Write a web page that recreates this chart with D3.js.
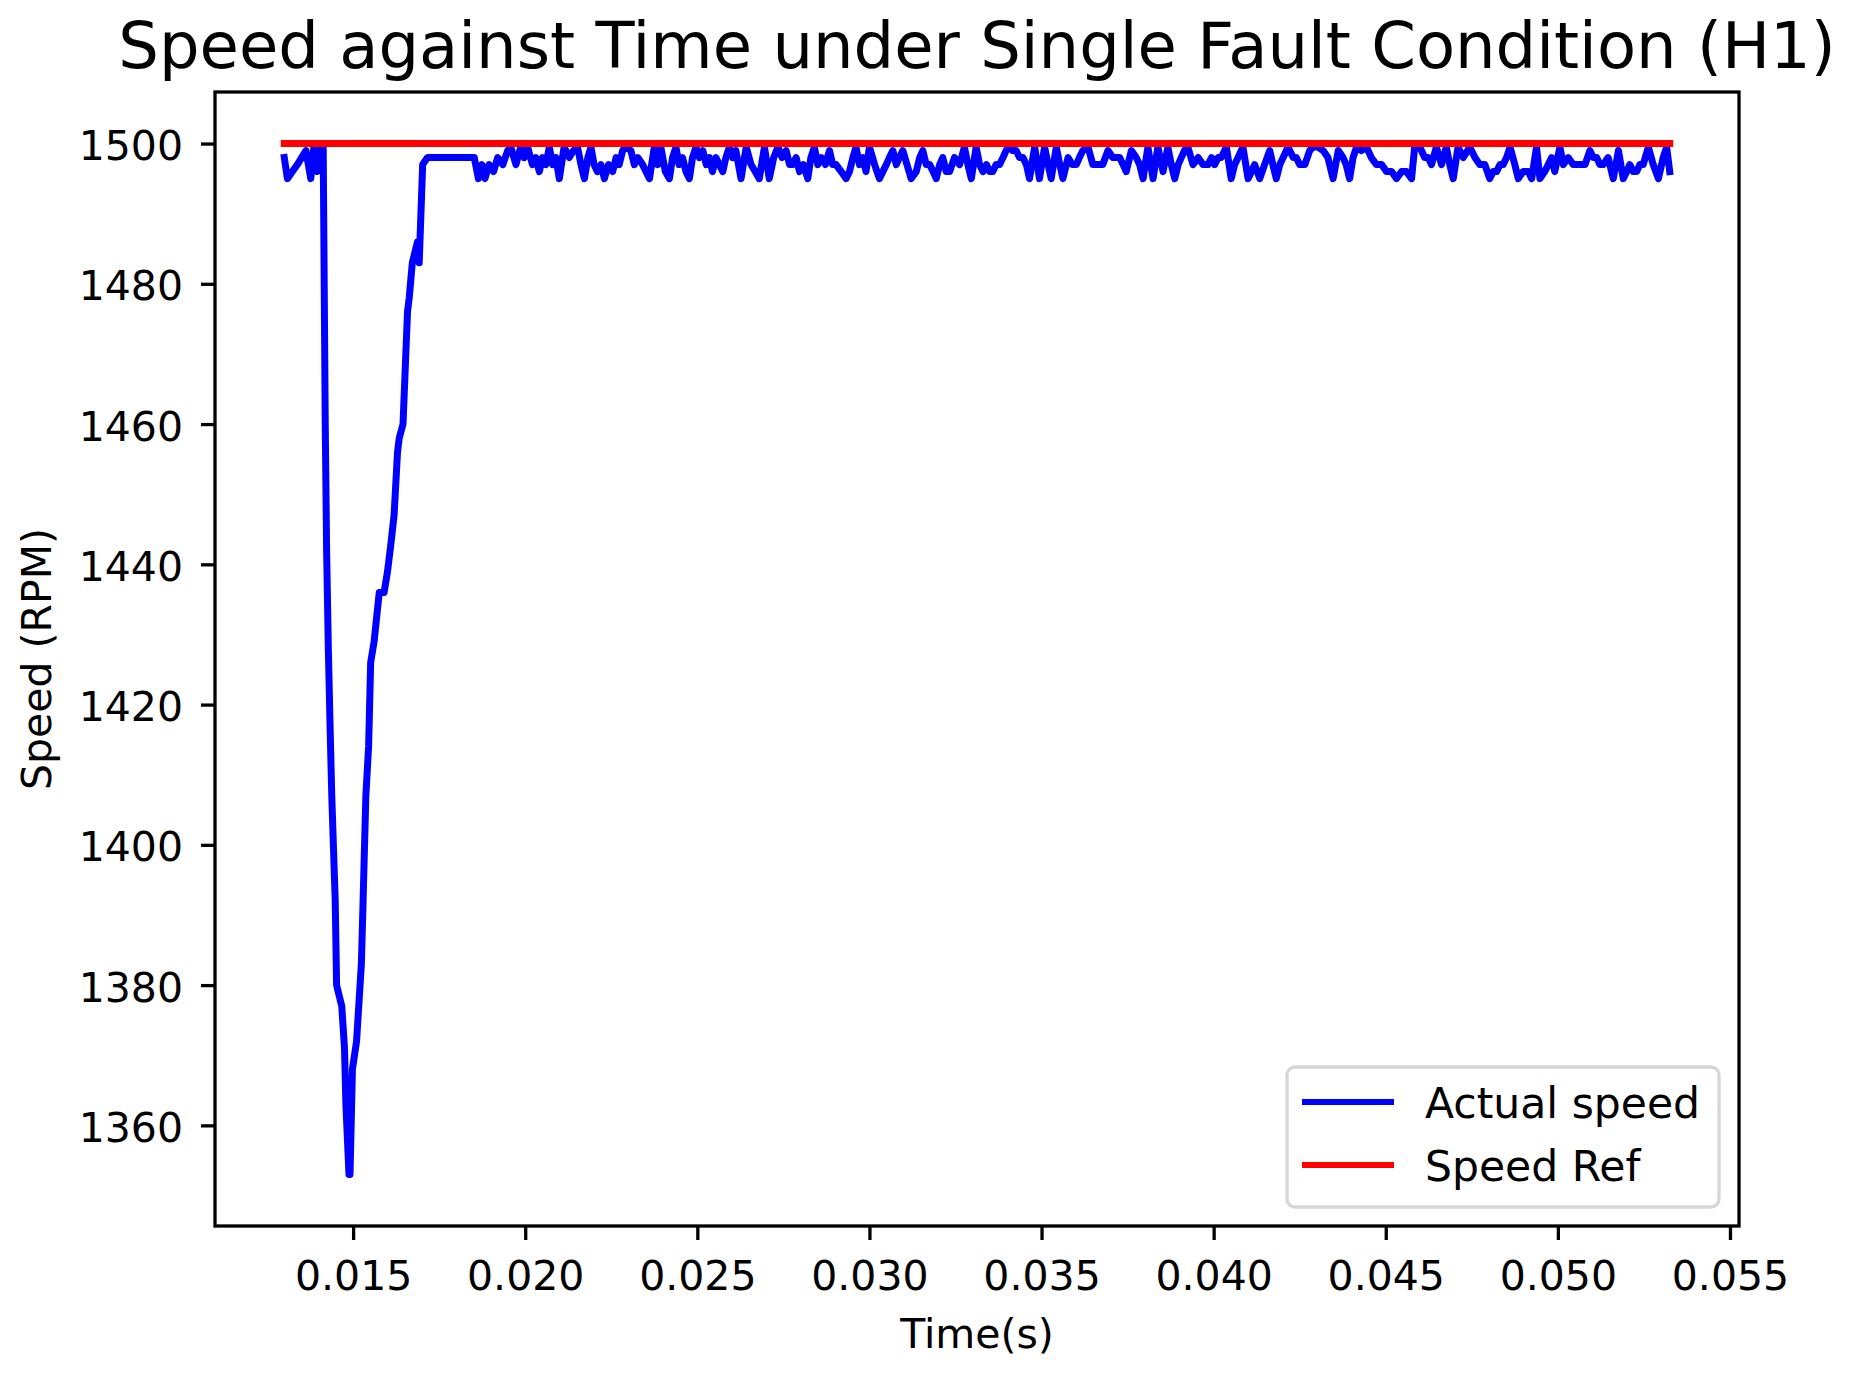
<!DOCTYPE html>
<html>
<head>
<meta charset="utf-8">
<script src="https://cdn.jsdelivr.net/npm/d3@7"></script>
<style>
  html, body { margin: 0; padding: 0; background: #ffffff; }
  svg { display: block; font-family: "DejaVu Sans", sans-serif; }
</style>
</head>
<body>
<svg id="chart" width="1849" height="1379"></svg>
<script>
// ---------------- data ----------------
const titleText = "Speed against Time under Single Fault Condition (H1)";
const xLabelText = "Time(s)";
const yLabelText = "Speed (RPM)";
const seriesNames = ["Actual speed", "Speed Ref"];
const seriesColors = ["#0000ff", "#ff0000"];

// Actual speed: time (s)
const actualTime = [
  // start + fault transient
  0.01300, 0.01309, 0.01338, 0.01363, 0.01377, 0.01387, 0.01396, 0.01406, 0.01413,
  0.01419, 0.01423, 0.01428, 0.01433, 0.01438, 0.01448, 0.01452, 0.01467, 0.01475,
  0.01479, 0.01488, 0.01491, 0.01498, 0.01510, 0.01524, 0.01529, 0.01537, 0.01545,
  0.01551, 0.01561, 0.01576, 0.01590, 0.01600, 0.01610, 0.01619, 0.01629, 0.01634,
  0.01645, 0.01658, 0.01663, 0.01672, 0.01682, 0.01687, 0.01692, 0.01702, 0.01716,
  0.01852,
  // steady state ripple
  0.01864, 0.01874, 0.01883, 0.01895, 0.01908, 0.01920, 0.01935, 0.01949, 0.01958,
  0.01973, 0.01987, 0.01997, 0.02007, 0.02021, 0.02031, 0.02041, 0.02050, 0.02060,
  0.02070, 0.02080, 0.02089, 0.02099, 0.02113, 0.02128, 0.02140, 0.02152, 0.02162,
  0.02172, 0.02182, 0.02191, 0.02200, 0.02210, 0.02220, 0.02230, 0.02242, 0.02254,
  0.02264, 0.02273, 0.02283, 0.02293, 0.02307, 0.02317, 0.02327, 0.02341, 0.02351,
  0.02361, 0.02375, 0.02385, 0.02394, 0.02407, 0.02419, 0.02428, 0.02438, 0.02447,
  0.02457, 0.02467, 0.02477, 0.02486, 0.02496, 0.02506, 0.02516, 0.02526, 0.02535,
  0.02544, 0.02554, 0.02564, 0.02574, 0.02583, 0.02593, 0.02603, 0.02612, 0.02627,
  0.02642, 0.02656, 0.02668, 0.02680, 0.02695, 0.02709, 0.02722, 0.02734, 0.02746,
  0.02758, 0.02768, 0.02777, 0.02787, 0.02797, 0.02808, 0.02821, 0.02830, 0.02840,
  0.02850, 0.02860, 0.02872, 0.02884, 0.02893, 0.02903, 0.02918, 0.02932,
  0.02942, 0.02952, 0.02961, 0.02971, 0.02981, 0.02990, 0.03000, 0.03015, 0.03029,
  0.03039, 0.03049, 0.03058, 0.03068, 0.03078, 0.03087, 0.03097, 0.03109, 0.03121,
  0.03136, 0.03146, 0.03155, 0.03165, 0.03175, 0.03185, 0.03194, 0.03204, 0.03213,
  0.03223, 0.03233, 0.03247, 0.03262, 0.03276, 0.03286, 0.03296, 0.03310, 0.03320,
  0.03330, 0.03340, 0.03349, 0.03358, 0.03368, 0.03378, 0.03388, 0.03397, 0.03407,
  0.03416, 0.03426, 0.03436, 0.03446, 0.03456, 0.03465, 0.03480, 0.03494, 0.03509,
  0.03519, 0.03528, 0.03543, 0.03553, 0.03562, 0.03577, 0.03589, 0.03601, 0.03610,
  0.03620, 0.03635, 0.03649, 0.03663, 0.03678, 0.03693, 0.03707, 0.03717, 0.03727,
  0.03737, 0.03746, 0.03761, 0.03775, 0.03785, 0.03795, 0.03809, 0.03824, 0.03838,
  0.03853, 0.03867, 0.03877, 0.03887, 0.03897, 0.03906, 0.03915, 0.03925, 0.03940,
  0.03955, 0.03969, 0.03984, 0.03994, 0.04003, 0.04013, 0.04022, 0.04037, 0.04051,
  0.04061, 0.04071, 0.04085, 0.04100,
  0.04110, 0.04119, 0.04134, 0.04148, 0.04163, 0.04172, 0.04182, 0.04192, 0.04202,
  0.04216, 0.04231, 0.04240, 0.04250, 0.04265, 0.04279, 0.04289, 0.04303, 0.04318,
  0.04332, 0.04347, 0.04362, 0.04376, 0.04385, 0.04395, 0.04405, 0.04415, 0.04429,
  0.04444, 0.04458, 0.04473, 0.04488, 0.04502, 0.04517, 0.04531, 0.04546, 0.04560,
  0.04575, 0.04584, 0.04599, 0.04613, 0.04623, 0.04633, 0.04647, 0.04662, 0.04676,
  0.04686, 0.04696, 0.04710, 0.04725, 0.04744, 0.04759, 0.04773, 0.04788, 0.04802,
  0.04812, 0.04822, 0.04832, 0.04841, 0.04851, 0.04861, 0.04875, 0.04885, 0.04899,
  0.04914, 0.04924, 0.04938, 0.04948, 0.04962, 0.04972, 0.04982, 0.04991, 0.05006,
  0.05016, 0.05030, 0.05045, 0.05054, 0.05064, 0.05079, 0.05093, 0.05103, 0.05113,
  0.05122, 0.05132, 0.05146, 0.05161, 0.05176, 0.05190, 0.05200, 0.05209, 0.05219,
  0.05229, 0.05238, 0.05248, 0.05263, 0.05277, 0.05292, 0.05306, 0.05316, 0.05325
];
// Actual speed: RPM
const actualSpeed = [
  1498, 1495, 1497, 1499, 1495, 1500, 1496, 1500, 1500,
  1460, 1442, 1428, 1417, 1407, 1392, 1380, 1377, 1371,
  1363, 1353, 1353, 1368, 1372, 1383, 1392, 1407, 1414,
  1426, 1429, 1436, 1436, 1439, 1443, 1447, 1456, 1458,
  1460, 1476, 1478, 1483, 1485, 1486, 1483, 1497, 1498,
  1498,
  1495, 1497, 1495, 1497, 1496, 1498, 1497, 1499, 1499.5,
  1497, 1499.5, 1498, 1499.5, 1497, 1498, 1496, 1498, 1497,
  1499.5, 1497, 1498, 1495, 1499.5, 1498, 1499, 1499.5, 1497,
  1495, 1498, 1499.5, 1497, 1496, 1497, 1495, 1497, 1496,
  1498, 1497, 1499, 1499.5, 1499, 1497, 1498, 1497, 1496,
  1495, 1499.5, 1497, 1499.5, 1496, 1495, 1498, 1499.5, 1497,
  1498, 1496, 1495, 1498, 1499.5, 1498, 1499, 1497, 1498,
  1496, 1498, 1497, 1496, 1498, 1499.5, 1498, 1499, 1495,
  1499.5, 1497, 1496, 1495, 1499.5, 1495, 1498, 1499.5, 1498,
  1499, 1497, 1497, 1498, 1496, 1497, 1495, 1498, 1499.5,
  1497, 1498, 1497, 1499, 1497, 1497, 1496, 1495,
  1496, 1498, 1499.5, 1497, 1498, 1496, 1499.5, 1497, 1495,
  1496, 1497, 1498, 1499, 1497, 1498, 1499, 1497, 1495,
  1496, 1498, 1499, 1497, 1497, 1496, 1495, 1497, 1498,
  1496, 1496, 1498, 1497, 1499.5, 1497, 1495, 1499.5, 1497,
  1496, 1497, 1496, 1496, 1497, 1497, 1498, 1499, 1499.5,
  1499, 1499, 1498, 1498, 1497, 1495, 1499.5, 1495, 1499.5,
  1497, 1495, 1499.5, 1497, 1495, 1498, 1497, 1497, 1498,
  1499, 1499.5, 1497, 1497, 1497, 1499, 1498, 1498, 1498,
  1497, 1496, 1499, 1498, 1497, 1495, 1499.5, 1495, 1499.5,
  1496, 1499.5, 1497, 1495, 1497, 1498, 1499, 1499.5, 1497,
  1498, 1497, 1497, 1498, 1497, 1498, 1498, 1499.5, 1495,
  1497, 1498, 1499.5, 1495,
  1496, 1497, 1495, 1497, 1499, 1497, 1495, 1497, 1498,
  1499.5, 1498, 1498, 1497, 1497, 1499, 1499.5, 1499.5, 1499,
  1498, 1495, 1499, 1498, 1497, 1495, 1498, 1499.5, 1499,
  1499.5, 1498, 1497, 1497, 1496, 1496, 1495, 1496, 1496,
  1495, 1499.5, 1499.5, 1498, 1498, 1497, 1499.5, 1497, 1499.5,
  1497, 1495, 1499.5, 1498, 1499.5, 1498, 1497, 1497, 1495,
  1496, 1496, 1497, 1497, 1498, 1499.5, 1497, 1495, 1496,
  1496, 1495, 1499.5, 1495, 1496, 1497, 1498, 1496, 1499.5,
  1497, 1498, 1497, 1497, 1497, 1497, 1499, 1498, 1498,
  1497, 1497, 1498, 1495, 1499, 1495, 1496, 1497, 1496,
  1496, 1497, 1497, 1499.5, 1497, 1495, 1498, 1499.5, 1496
];
// Speed reference
const refTime = [0.01300, 0.05325];
const refSpeed = [1500, 1500];

// tick values
const xTicks = [0.015, 0.020, 0.025, 0.030, 0.035, 0.040, 0.045, 0.050, 0.055];
const yTicks = [1360, 1380, 1400, 1420, 1440, 1460, 1480, 1500];

// ---------------- layout ----------------
const W = 1849, H = 1379;
const plot = { left: 215, right: 1739, top: 92, bottom: 1226 };
const fontTick = 41;
const fontLegend = 42.5;

const svg = d3.select("#chart");
svg.append("rect").attr("width", W).attr("height", H).attr("fill", "#ffffff");

// matplotlib-style 5% margins
const allT = actualTime.concat(refTime);
const allV = actualSpeed.concat(refSpeed);
const [tMin, tMax] = d3.extent(allT);
const [vMin, vMax] = d3.extent(allV);
const tPad = (tMax - tMin) * 0.05, vPad = (vMax - vMin) * 0.05;

const x = d3.scaleLinear().domain([tMin - tPad, tMax + tPad]).range([plot.left, plot.right]);
const y = d3.scaleLinear().domain([vMin - vPad, vMax + vPad]).range([plot.bottom, plot.top]);

// lines
const line = d3.line().x(d => x(d[0])).y(d => y(d[1]));
const actualData = actualTime.map((t, i) => [t, actualSpeed[i]]);
const refData = refTime.map((t, i) => [t, refSpeed[i]]);

svg.append("path").datum(actualData)
  .attr("d", line).attr("fill", "none")
  .attr("stroke", seriesColors[0]).attr("stroke-width", 7)
  .attr("stroke-linejoin", "round").attr("stroke-linecap", "square");

svg.append("path").datum(refData)
  .attr("d", line).attr("fill", "none")
  .attr("stroke", seriesColors[1]).attr("stroke-width", 7)
  .attr("stroke-linejoin", "round").attr("stroke-linecap", "square");

// axes
const xAxis = d3.axisBottom(x).tickValues(xTicks).tickFormat(d3.format(".3f"))
  .tickSize(14).tickSizeOuter(0);
const gx = svg.append("g").attr("transform", `translate(0,${plot.bottom})`).call(xAxis);
gx.select(".domain").remove();
gx.selectAll(".tick line").attr("stroke", "#000").attr("stroke-width", 3.3);
gx.selectAll(".tick text").attr("y", 64).attr("dy", null)
  .attr("font-size", fontTick).attr("fill", "#000")
  .attr("font-family", "DejaVu Sans");

const yAxis = d3.axisLeft(y).tickValues(yTicks).tickFormat(d3.format("d"))
  .tickSize(14).tickSizeOuter(0);
const gy = svg.append("g").attr("transform", `translate(${plot.left},0)`).call(yAxis);
gy.select(".domain").remove();
gy.selectAll(".tick line").attr("stroke", "#000").attr("stroke-width", 3.3);
gy.selectAll(".tick text").attr("x", -32).attr("dy", 16)
  .attr("font-size", fontTick).attr("fill", "#000")
  .attr("font-family", "DejaVu Sans");

// spines
svg.append("rect")
  .attr("x", plot.left).attr("y", plot.top)
  .attr("width", plot.right - plot.left).attr("height", plot.bottom - plot.top)
  .attr("fill", "none").attr("stroke", "#000").attr("stroke-width", 3.3);

// title and labels
svg.append("text").attr("x", (plot.left + plot.right) / 2).attr("y", 68)
  .attr("text-anchor", "middle").attr("font-size", 64).attr("fill", "#000")
  .text(titleText);

svg.append("text").attr("x", (plot.left + plot.right) / 2).attr("y", 1348)
  .attr("text-anchor", "middle").attr("font-size", fontTick).attr("fill", "#000")
  .text(xLabelText);

svg.append("text")
  .attr("transform", `translate(51,${(plot.top + plot.bottom) / 2}) rotate(-90)`)
  .attr("text-anchor", "middle").attr("font-size", fontTick).attr("fill", "#000")
  .text(yLabelText);

// legend
const lg = svg.append("g");
lg.append("rect").attr("x", 1287).attr("y", 1067).attr("width", 432).attr("height", 140)
  .attr("rx", 8).attr("ry", 8)
  .attr("fill", "#ffffff").attr("fill-opacity", 0.8)
  .attr("stroke", "#d6d6d6").attr("stroke-width", 3.3);
const legendRowY = [1102, 1165];
seriesNames.forEach((name, i) => {
  lg.append("line").attr("x1", 1302).attr("x2", 1394)
    .attr("y1", legendRowY[i]).attr("y2", legendRowY[i])
    .attr("stroke", seriesColors[i]).attr("stroke-width", 6);
  lg.append("text").attr("x", 1425).attr("y", legendRowY[i] + 16)
    .attr("font-size", fontLegend).attr("fill", "#000").text(name);
});
</script>
</body>
</html>
